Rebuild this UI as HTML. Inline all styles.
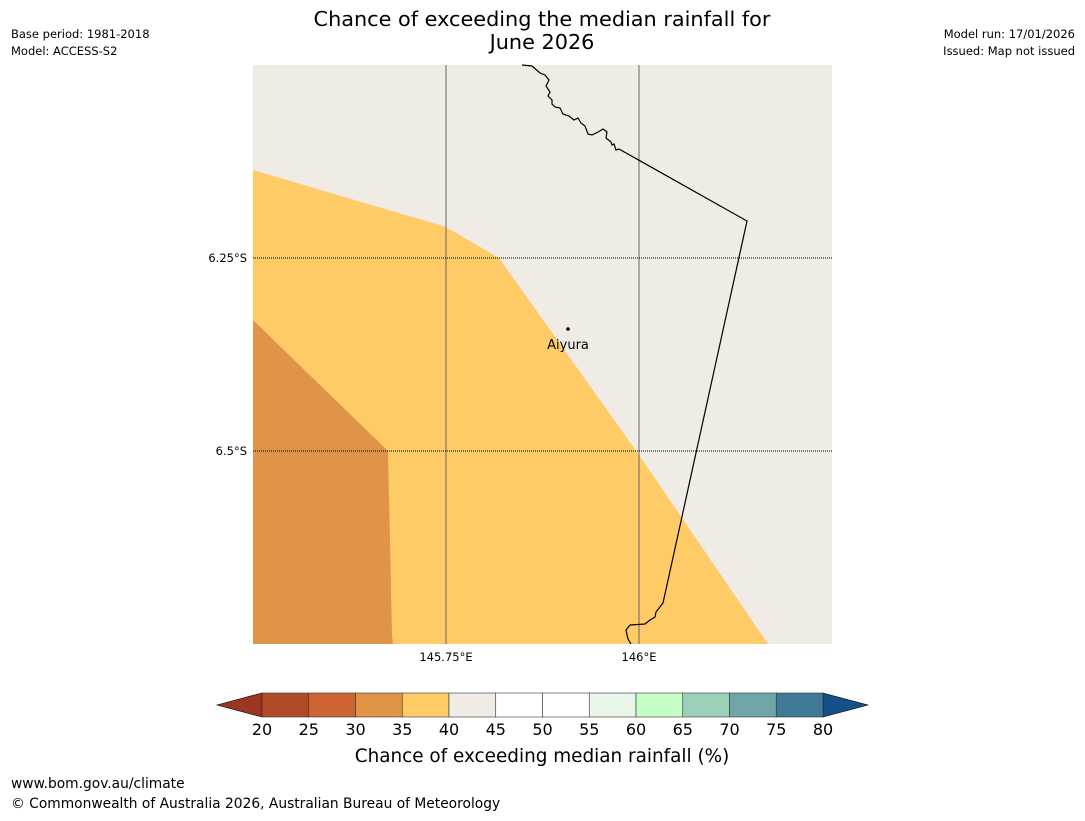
<!DOCTYPE html>
<html><head><meta charset="utf-8"><style>
body{margin:0;background:#fff;width:1085px;height:816px;overflow:hidden;font-family:"Liberation Sans","DejaVu Sans",sans-serif}
svg text{font-family:"DejaVu Sans","Liberation Sans",sans-serif}
</style></head><body>
<svg id="chart" width="1085" height="816" xmlns="http://www.w3.org/2000/svg">
<text x="542" y="26" font-size="20.8" text-anchor="middle">Chance of exceeding the median rainfall for</text>
<text x="542" y="49" font-size="20.8" text-anchor="middle">June 2026</text>
<text x="11" y="38" font-size="11.5">Base period: 1981-2018</text>
<text x="11" y="55" font-size="11.5">Model: ACCESS-S2</text>
<text x="1075" y="38" font-size="11.5" text-anchor="end">Model run: 17/01/2026</text>
<text x="1075" y="55" font-size="11.5" text-anchor="end">Issued: Map not issued</text>
<g>
<rect x="253" y="65" width="579" height="579" fill="#f0ebe5"/>
<polygon points="253,170 446,227 499,258 639,455 768,644 253,644" fill="#fecb67"/>
<polygon points="253,320 388,451 390,540 392,635 393,644 253,644" fill="#e09448"/>
<line x1="446" y1="65" x2="446" y2="644" stroke="#666" stroke-width="1"/>
<line x1="639" y1="65" x2="639" y2="644" stroke="#666" stroke-width="1"/>
<line x1="253" y1="258" x2="832" y2="258" stroke="#000" stroke-width="1" stroke-dasharray="1,1"/>
<line x1="253" y1="451" x2="832" y2="451" stroke="#000" stroke-width="1" stroke-dasharray="1,1"/>
<polyline fill="none" stroke="#000" stroke-width="1.2" points="522,65 532,66 540,73 545,75 549,80 546,86 550,92 548,96 552,100 552,104 555,107 560,108 563,114 569,116 574,120 578,118 581,123 585,126 588,134 592,135 598,132 603,129 607,132 606,138 611,142 612,145 614,144 616,150 619,149 747,221 663,603 656,612 655,617 650,620 645,624 630,625 626,630 628,639 631,644"/>
<circle cx="568" cy="329" r="1.8" fill="#000"/>
<text x="568" y="349" font-size="13" text-anchor="middle">Aiyura</text>
<text x="247" y="262" font-size="11.5" text-anchor="end">6.25°S</text>
<text x="247" y="455" font-size="11.5" text-anchor="end">6.5°S</text>
<text x="446" y="661" font-size="11.5" text-anchor="middle">145.75°E</text>
<text x="639" y="661" font-size="11.5" text-anchor="middle">146°E</text>
</g>
<g id="cbar"></g>
<text x="542" y="762" font-size="18.4" text-anchor="middle">Chance of exceeding median rainfall (%)</text>
<text x="11" y="788" font-size="13.8">www.bom.gov.au/climate</text>
<text x="11" y="808" font-size="13.8">© Commonwealth of Australia 2026, Australian Bureau of Meteorology</text>
</svg>
<script>
const levels=[20,25,30,35,40,45,50,55,60,65,70,75,80];
const binColors=["#b14b25","#cd6433","#e09448","#fecb67","#f0ebe5","#ffffff","#ffffff","#eaf5e9","#c6fdc7","#9ccfb8","#6fa5a8","#417a97"];
const underColor="#9c3522", overColor="#154f88";
const g=document.getElementById('cbar');
const NS="http://www.w3.org/2000/svg";
const x0=262,x1=823,y0=693,y1=717;
function sx(v){return x0+(v-levels[0])/(levels[levels.length-1]-levels[0])*(x1-x0);}
function mk(t,a){const e=document.createElementNS(NS,t);for(const k in a)e.setAttribute(k,a[k]);g.appendChild(e);return e;}
let p=mk('polygon',{points:`${x0},${y0} 217,${(y0+y1)/2} ${x0},${y1}`,fill:underColor,stroke:'#000','stroke-width':0.6});


p=mk('polygon',{points:`${x1},${y0} 868,${(y0+y1)/2} ${x1},${y1}`,fill:overColor,stroke:'#000','stroke-width':0.6});


binColors.forEach((c,i)=>{
 const r=mk('rect',{x:sx(levels[i]),y:y0,width:sx(levels[i+1])-sx(levels[i]),height:y1-y0,fill:c,stroke:'#333','stroke-width':0.6});
 
 
});
levels.forEach(v=>{
 const t=mk('text',{x:sx(v),y:735,'font-size':16,'text-anchor':'middle'});
 t.textContent=v;
 
 
});
</script>
</body></html>
